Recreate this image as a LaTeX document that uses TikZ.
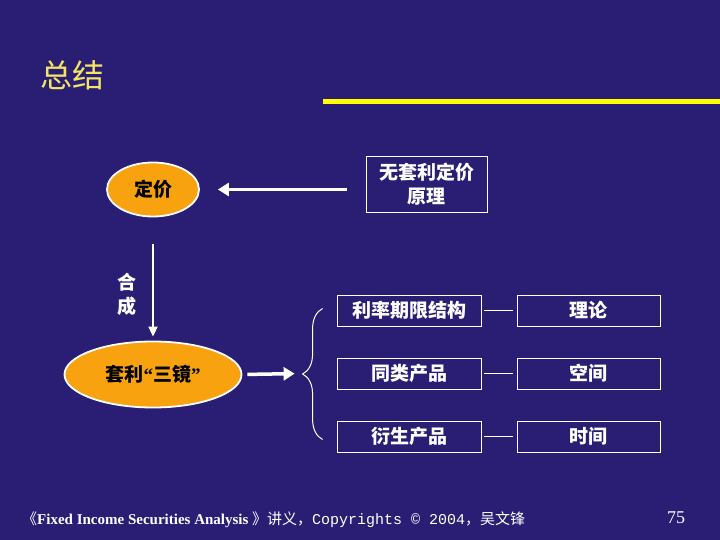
\documentclass[tikz,border=0pt]{standalone}
\usepackage{fontspec}
\setmainfont{Liberation Serif}
\newfontfamily\cjk{Noto Sans CJK SC}
\newfontfamily\footmono{Liberation Mono}
\usepackage{xcolor}
\definecolor{slideBg}{HTML}{2A1E74}
\definecolor{slideYellow}{HTML}{FFFF00}
\definecolor{titleYellow}{HTML}{F2E464}
\definecolor{ovalOrange}{HTML}{F8A20F}
\usepackage{tikz}
\usetikzlibrary{shapes.geometric,decorations.pathreplacing,arrows.meta}

\begin{document}
\begin{tikzpicture}[x=1pt, y=-1pt,
  oval/.style={ellipse, draw=white, line width=1.8pt, fill=ovalOrange, text=black, inner sep=0pt,
    font=\cjk\bfseries\fontsize{19}{22}\selectfont},
  textbox/.style={draw=white, line width=0.8pt, text=white, inner sep=0pt, align=center,
    font=\cjk\bfseries\fontsize{19}{24}\selectfont},
  wide arrow/.style={-{Triangle[length=11pt, width=13pt]}, white, line width=3.5pt},
  thin arrow/.style={-{Triangle[length=10pt, width=9pt]}, white, line width=1.8pt},
  link/.style={white, line width=1.2pt}]
  % background
  \fill[slideBg] (0,0) rectangle (720,540);
  \useasboundingbox (0,0) rectangle (720,540);
  % title
  \node[anchor=west, text=titleYellow, inner sep=0pt, font=\cjk\fontsize{32}{36}\selectfont] (title) at (40,75) {总结};
  \draw[slideYellow, line width=4.5pt] (323,101.5) -- (720,101.5);
  % pricing
  \node[oval, minimum width=92pt, minimum height=54pt] (price) at (153,189.5) {定价};
  \node[textbox, minimum width=121pt, minimum height=56pt] (noarb) at (426.5,184) {无套利定价\\原理};
  \draw[wide arrow, shorten <=19pt, shorten >=18pt] (noarb.west |- price.east) -- (price.east);
  % synthesis
  \node[oval, minimum width=177pt, minimum height=66pt] (arb) at (153,374.5)
    {套利{\rmfamily\bfseries “}三镜{\rmfamily\bfseries ”}};
  \draw[thin arrow, shorten <=27pt, shorten >=4pt] (price.south) -- (arb.north);
  \node[text=white, align=center, inner sep=0pt, font=\cjk\bfseries\fontsize{19}{24}\selectfont] (synth) at (127,294) {合\\成};
  % three mirrors
  \foreach \name/\lbl/\yy in {rate/利率期限结构/310.5, same/同类产品/373.5, deriv/衍生产品/436.5}
    \node[textbox, minimum width=144pt, minimum height=31pt] (\name) at (409,\yy) {\lbl};
  \foreach \name/\lbl/\yy in {theory/理论/310.5, space/空间/373.5, time/时间/436.5}
    \node[textbox, minimum width=143pt, minimum height=31pt] (\name) at (588.5,\yy) {\lbl};
  \foreach \a/\b in {rate/theory, same/space, deriv/time}
    \draw[link, shorten <=3pt, shorten >=4pt] (\a.east) -- (\b.west);
  % brace
  \coordinate (braceTop) at ([xshift=-14pt, yshift=2pt]rate.west);
  \coordinate (braceBot) at ([xshift=-14pt, yshift=-3pt]deriv.west);
  \coordinate (braceTip) at ([xshift=-35pt]same.west);
  \draw[white, line width=1pt, decorate, decoration={brace, amplitude=20pt}] (braceBot) -- (braceTop);
  \draw[wide arrow, shorten <=5pt, shorten >=7pt] (arb.east) -- (braceTip);
  % footer
  \node[anchor=west, text=white, inner sep=0pt, font=\fontsize{15}{17}\selectfont] (footer) at (22,520)
    {{\cjk 《}\textbf{Fixed Income Securities Analysis }{\cjk 》讲义，}{\footmono Copyrights © 2004}{\cjk ，吴文锋}};
  \node[text=white, inner sep=0pt, font=\fontsize{18}{20}\selectfont] (page) at (676,518) {75};
\end{tikzpicture}
\end{document}
